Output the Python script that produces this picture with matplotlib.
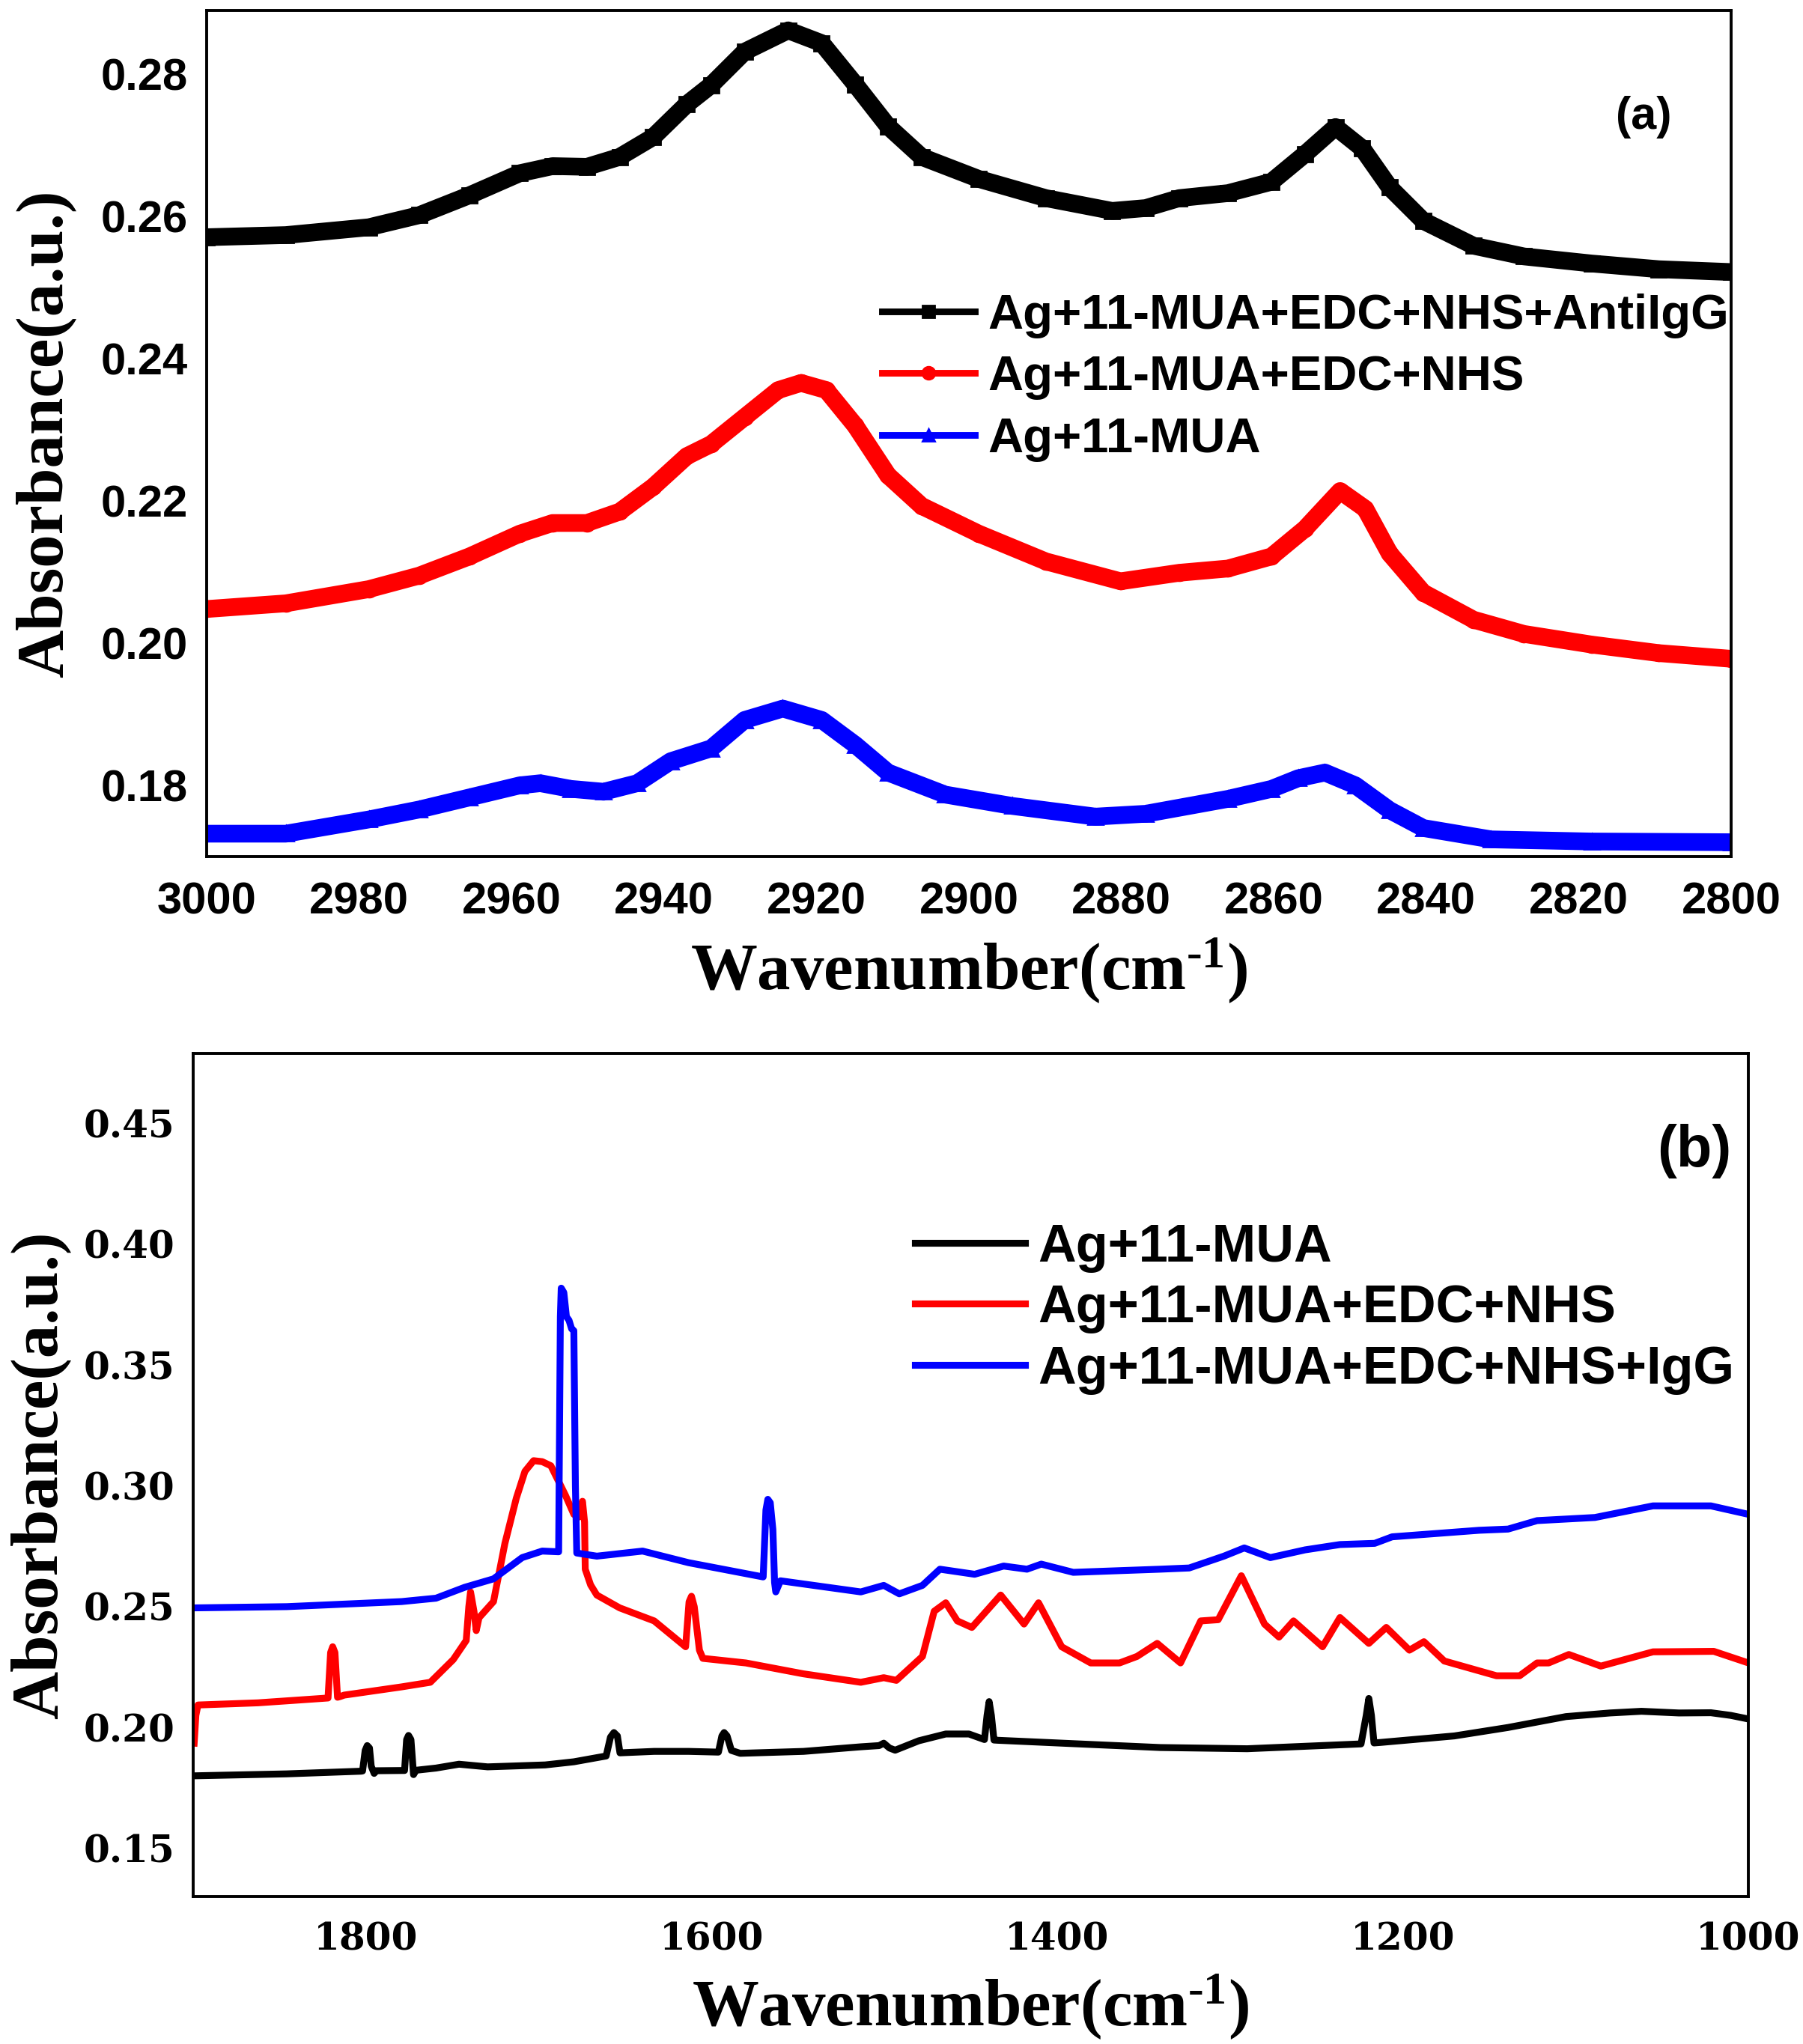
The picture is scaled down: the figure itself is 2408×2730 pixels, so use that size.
import matplotlib
matplotlib.use('Agg')
import matplotlib.pyplot as plt
from matplotlib.lines import Line2D
from matplotlib.ticker import FormatStrFormatter

plt.rcParams['mathtext.fontset'] = 'custom'
plt.rcParams['mathtext.rm'] = 'Liberation Serif:bold'
plt.rcParams['mathtext.it'] = 'Liberation Serif:bold'
plt.rcParams['mathtext.bf'] = 'Liberation Serif:bold'

# ---- panel (a): C-H stretching region ----
wn_a_black = [3000, 2989.6, 2978.7, 2972.1, 2965.5, 2958.9, 2954.6, 2950.1, 2945.8, 2941.4,
              2937, 2933.8, 2929.4, 2923.7, 2919.3, 2914.9, 2910.6, 2906.2, 2898.7, 2889.9,
              2881.2, 2876.8, 2872.4, 2866, 2860.3, 2855.9, 2851.9, 2848.4, 2844.8, 2840.4,
              2833.8, 2827.2, 2818.3, 2809.5, 2800]
abs_a_black = [0.2571, 0.2574, 0.2585, 0.2602, 0.2630, 0.2661, 0.2671, 0.2670, 0.2684, 0.2712,
               0.2758, 0.2785, 0.2832, 0.2862, 0.2844, 0.2786, 0.2727, 0.2684, 0.2653, 0.2626,
               0.2608, 0.2612, 0.2626, 0.2633, 0.2649, 0.2688, 0.2726, 0.2696, 0.2641, 0.2594,
               0.2559, 0.2544, 0.2534, 0.2526, 0.2522]

wn_a_red = [3000, 2989.6, 2978.7, 2972.1, 2965.5, 2958.9, 2954.6, 2950.1, 2945.8, 2941.4,
            2937, 2933.8, 2929.4, 2925, 2922, 2918.7, 2914.9, 2910.6, 2906.2, 2898.7,
            2889.9, 2880.1, 2872.4, 2866, 2860.3, 2855.9, 2851.3, 2848, 2844.8, 2840.4,
            2833.8, 2827.2, 2818.3, 2809.5, 2800]
abs_a_red = [0.2048, 0.2056, 0.2076, 0.2095, 0.2122, 0.2154, 0.2169, 0.2169, 0.2185, 0.2220,
             0.2263, 0.2280, 0.2318, 0.2356, 0.2366, 0.2356, 0.2306, 0.2236, 0.2193, 0.2154,
             0.2115, 0.2087, 0.2099, 0.2105, 0.2122, 0.2161, 0.2214, 0.2189, 0.2126, 0.2071,
             0.2033, 0.2013, 0.1998, 0.1986, 0.1978]

wn_a_blue = [3000, 2989.6, 2978.7, 2972.1, 2965.5, 2958.9, 2956.2, 2952.2, 2947.9, 2943.5,
             2939.1, 2933.8, 2929.4, 2924.4, 2919.3, 2914.9, 2910.6, 2903.1, 2894.3, 2883.4,
             2876.8, 2866, 2860.3, 2856.8, 2853.3, 2849.3, 2844.8, 2840.4, 2831.5, 2818.3,
             2800]
abs_a_blue = [0.1732, 0.1732, 0.1752, 0.1766, 0.1783, 0.1800, 0.1803, 0.1795, 0.1791, 0.1803,
              0.1834, 0.1852, 0.1892, 0.1908, 0.1892, 0.1857, 0.1818, 0.1787, 0.1771, 0.1756,
              0.1760, 0.1781, 0.1795, 0.1810, 0.1818, 0.1800, 0.1765, 0.1740, 0.1724, 0.1721,
              0.1720]

labels_a = ['Ag+11-MUA+EDC+NHS+AntiIgG', 'Ag+11-MUA+EDC+NHS', 'Ag+11-MUA']

# ---- panel (b): fingerprint region ----
wn_b_black = [1899, 1846, 1803, 1802, 1800.5, 1799.3, 1798, 1797, 1795.3, 1794,
              1777.7, 1776.5, 1775.4, 1774, 1772.5, 1771, 1759.5, 1746.2, 1729.6, 1696.3,
              1679.7, 1661, 1658.5, 1656.5, 1654.5, 1653, 1633.2, 1613.3, 1596, 1594,
              1592.7, 1591, 1588.5, 1583.4, 1546.8, 1513.6, 1503, 1500.3, 1497, 1493.7,
              1480, 1464.4, 1451, 1442, 1440.5, 1439.3, 1438, 1436.5, 1434.2, 1390.6,
              1340.3, 1289.9, 1224, 1221, 1219.5, 1218, 1216.5, 1212.8, 1170, 1138.9,
              1105.4, 1080, 1061.7, 1040, 1021.5, 1010, 999.7]
abs_b_black = [0.1800, 0.1808, 0.1819, 0.1820, 0.1905, 0.1925, 0.1915, 0.1840, 0.1810, 0.1821,
               0.1822, 0.1950, 0.1967, 0.1950, 0.1805, 0.1823, 0.1832, 0.1848, 0.1837, 0.1845,
               0.1858, 0.1882, 0.1960, 0.1979, 0.1965, 0.1895, 0.1901, 0.1901, 0.1898, 0.1965,
               0.1979, 0.1965, 0.1905, 0.1893, 0.1901, 0.1920, 0.1925, 0.1935, 0.1915, 0.1906,
               0.1945, 0.1973, 0.1973, 0.1950, 0.2050, 0.2107, 0.2050, 0.1948, 0.1947, 0.1933,
               0.1917, 0.1912, 0.1932, 0.2050, 0.2120, 0.2050, 0.1936, 0.1938, 0.1965, 0.2000,
               0.2045, 0.2060, 0.2067, 0.2060, 0.2061, 0.2050, 0.2035]

wn_b_red = [1899.5, 1898.5, 1897.3, 1862.5, 1825.9, 1822, 1820.5, 1819.3, 1818, 1816.5,
            1815, 1812.6, 1779.4, 1762.8, 1749.5, 1742, 1740.5, 1739.5, 1737.5, 1736.2,
            1734.6, 1726.2, 1719.6, 1713, 1708, 1703, 1698, 1693, 1684.7, 1679.7,
            1677, 1675.5, 1674.7, 1673.5, 1673.1, 1670, 1666.4, 1653.2, 1633.2, 1615,
            1613, 1611.6, 1610, 1607, 1605, 1580.1, 1546.8, 1513.6, 1500.3, 1493,
            1477.9, 1471.1, 1464.4, 1457.7, 1449.3, 1432.6, 1419.1, 1410.7, 1397.3, 1380.5,
            1363.8, 1353.7, 1342, 1328.5, 1316.8, 1306.7, 1293.3, 1279.9, 1271.5, 1263.1,
            1246.3, 1236.2, 1219.5, 1209.4, 1196, 1187.6, 1175.8, 1145.6, 1132.2, 1122.1,
            1115.4, 1103.7, 1085.2, 1055, 1019.8, 999.7]
abs_b_red = [0.1935, 0.2050, 0.2093, 0.2102, 0.2120, 0.2122, 0.2310, 0.2334, 0.2310, 0.2125,
             0.2128, 0.2134, 0.2168, 0.2187, 0.2281, 0.2360, 0.2500, 0.2561, 0.2480, 0.2401,
             0.2454, 0.2521, 0.2762, 0.2949, 0.3060, 0.3104, 0.3100, 0.3083, 0.2963, 0.2882,
             0.2870, 0.2920, 0.2936, 0.2850, 0.2655, 0.2590, 0.2548, 0.2495, 0.2441, 0.2334,
             0.2520, 0.2543, 0.2500, 0.2320, 0.2286, 0.2267, 0.2222, 0.2187, 0.2206, 0.2195,
             0.2294, 0.2481, 0.2516, 0.2441, 0.2414, 0.2548, 0.2428, 0.2516, 0.2334, 0.2267,
             0.2267, 0.2294, 0.2348, 0.2267, 0.2441, 0.2446, 0.2628, 0.2428, 0.2374, 0.2441,
             0.2334, 0.2455, 0.2348, 0.2414, 0.2320, 0.2355, 0.2275, 0.2214, 0.2214, 0.2267,
             0.2267, 0.2302, 0.2254, 0.2313, 0.2315, 0.2267]

wn_b_blue = [1899, 1845.8, 1779.4, 1759.5, 1742.9, 1726.2, 1709.6, 1698, 1688.5, 1687.5,
             1687, 1685.5, 1684, 1682.5, 1681, 1679.7, 1678.8, 1678, 1666.4, 1639.9,
             1613.3, 1570.1, 1568.5, 1567.4, 1566, 1564.5, 1563.5, 1562.8, 1560.1, 1513.6,
             1500.3, 1491.3, 1477.9, 1467.8, 1447.7, 1430.9, 1417.4, 1409.1, 1390.6, 1340.3,
             1323.5, 1303.4, 1291.6, 1276.5, 1256.4, 1236.2, 1216.1, 1206, 1155.7, 1138.9,
             1122.1, 1088.6, 1055, 1021.5, 999.7]
abs_b_blue = [0.2495, 0.2500, 0.2521, 0.2535, 0.2580, 0.2615, 0.2703, 0.2730, 0.2727, 0.3700,
              0.3818, 0.3800, 0.3700, 0.3685, 0.3650, 0.3642, 0.3000, 0.2722, 0.2709, 0.2730,
              0.2682, 0.2623, 0.2900, 0.2944, 0.2930, 0.2820, 0.2600, 0.2561, 0.2607, 0.2561,
              0.2588, 0.2553, 0.2588, 0.2655, 0.2634, 0.2668, 0.2655, 0.2676, 0.2642, 0.2655,
              0.2660, 0.2709, 0.2743, 0.2703, 0.2735, 0.2757, 0.2762, 0.2789, 0.2816, 0.2821,
              0.2856, 0.2869, 0.2917, 0.2917, 0.2882]

labels_b = ['Ag+11-MUA', 'Ag+11-MUA+EDC+NHS', 'Ag+11-MUA+EDC+NHS+IgG']

xticks_a = [3000, 2980, 2960, 2940, 2920, 2900, 2880, 2860, 2840, 2820, 2800]
yticks_a = [0.18, 0.20, 0.22, 0.24, 0.26, 0.28]
xticks_b = [1800, 1600, 1400, 1200, 1000]
yticks_b = [0.15, 0.20, 0.25, 0.30, 0.35, 0.40, 0.45]

sans = 'Liberation Sans'
serif = 'Liberation Serif'
xlab = r'Wavenumber(cm$^{\text{-}1}$)'

fig = plt.figure(figsize=(12.04, 13.65), dpi=200)
ax1 = fig.add_axes([0.1145, 0.581, 0.8457, 0.4139])
ax2 = fig.add_axes([0.1072, 0.0721, 0.8623, 0.4126])

# top panel: thick marker-covered curves
series_a = [(wn_a_black, abs_a_black, 'black', 's'),
            (wn_a_red, abs_a_red, 'red', 'o'),
            (wn_a_blue, abs_a_blue, 'blue', '^')]
handles_a = []
for (x, y, c, m), lab in zip(series_a, labels_a):
    ax1.plot(x, y, color=c, lw=8.5, marker=m, ms=7.5, solid_joinstyle='round',
             solid_capstyle='butt')
    handles_a.append(Line2D([], [], color=c, lw=3.2, marker=m, ms=6, label=lab))

ax1.set_xlim(3000, 2800)
ax1.set_ylim(0.170, 0.289)
ax1.set_xticks(xticks_a)
ax1.set_yticks(yticks_a)
ax1.yaxis.set_major_formatter(FormatStrFormatter('%.2f'))
for t in ax1.get_xticklabels() + ax1.get_yticklabels():
    t.set_fontfamily(sans)
    t.set_fontweight('bold')
    t.set_fontsize(21.5)
ax1.tick_params(axis='both', length=0)
ax1.tick_params(axis='x', pad=12)
ax1.tick_params(axis='y', pad=9)
ax1.set_xlabel(xlab, fontfamily=serif, fontweight='bold', fontsize=32)
ax1.set_ylabel('Absorbance(a.u.)', fontfamily=serif, fontweight='bold', fontsize=32)
ax1.xaxis.set_label_coords(0.5, -0.095)
ax1.yaxis.set_label_coords(-0.0855, 0.5)
ax1.legend(handles=handles_a, loc='center left', bbox_to_anchor=(0.443, 0.566),
           frameon=False, borderpad=0, borderaxespad=0, handlelength=1.9,
           handletextpad=0.27, labelspacing=0.34,
           prop={'family': sans, 'weight': 'bold', 'size': 23.5})
ax1.text(0.9426, 0.8737, '(a)', transform=ax1.transAxes, ha='center', va='center',
         fontfamily=sans, fontweight='bold', fontsize=22)

# bottom panel: plain lines
series_b = [(wn_b_black, abs_b_black, 'black'),
            (wn_b_red, abs_b_red, 'red'),
            (wn_b_blue, abs_b_blue, 'blue')]
for (x, y, c), lab in zip(series_b, labels_b):
    ax2.plot(x, y, color=c, lw=3.3, label=lab, solid_joinstyle='round')

ax2.set_xlim(1900, 1000)
ax2.set_ylim(0.130, 0.479)
ax2.set_xticks(xticks_b)
ax2.set_yticks(yticks_b)
ax2.yaxis.set_major_formatter(FormatStrFormatter('%.2f'))
for t in ax2.get_xticklabels() + ax2.get_yticklabels():
    t.set_fontfamily('DejaVu Serif')
    t.set_fontweight('bold')
    t.set_fontsize(18)
ax2.tick_params(axis='both', length=0)
ax2.tick_params(axis='x', pad=12)
ax2.tick_params(axis='y', pad=9)
ax2.set_xlabel(xlab, fontfamily=serif, fontweight='bold', fontsize=32)
ax2.set_ylabel('Absorbance(a.u.)', fontfamily=serif, fontweight='bold', fontsize=32)
ax2.xaxis.set_label_coords(0.5, -0.09)
ax2.yaxis.set_label_coords(-0.079, 0.5)
ax2.legend(loc='center left', bbox_to_anchor=(0.464, 0.697), frameon=False,
           borderpad=0, borderaxespad=0, handlelength=2.1, handletextpad=0.25,
           labelspacing=0.22, prop={'family': sans, 'weight': 'bold', 'size': 25.3})
ax2.text(0.9655, 0.884, '(b)', transform=ax2.transAxes, ha='center', va='center',
         fontfamily=sans, fontweight='bold', fontsize=28)

for ax in (ax1, ax2):
    for s in ax.spines.values():
        s.set_linewidth(1.4)

fig.savefig('out.png', dpi=200)
